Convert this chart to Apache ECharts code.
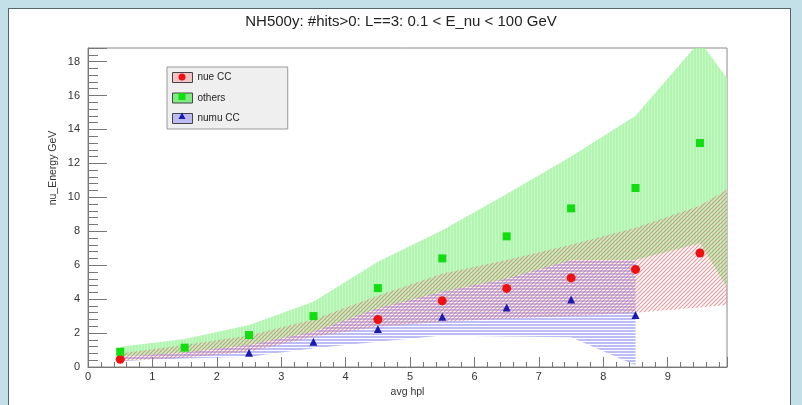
<!DOCTYPE html>
<html lang="en">

<head>
    <meta charset="UTF-8">
    <title>NH500y</title>
    <script src="https://cdn.jsdelivr.net/npm/echarts@6/dist/echarts.min.js"></script>
    <style>
        body {
            margin: 0;
            background: #c3e0e9;
        }

        .panel {
            position: absolute;
            left: 8px;
            top: 8px;
            width: 781px;
            height: 405px;
            background: #fff;
            border: 1px solid #55656b;
        }

        #chart {
            position: absolute;
            left: 0;
            top: 0;
            width: 802px;
            height: 405px;
        }
    </style>
</head>

<body>
    <div class="panel"></div>
    <div id="chart"></div>
    <script>
        // bin centres of the markers
        var xPts = [0.5, 1.5, 2.5, 3.5, 4.5, 5.5, 6.5, 7.5, 8.5, 9.5];
        var nueVal = [0.45, null, null, null, 2.8, 3.9, 4.63, 5.25, 5.75, 6.72];
        var othersVal = [0.9, 1.14, 1.88, 3.0, 4.65, 6.4, 7.7, 9.35, 10.55, 13.2];
        var numuVal = [null, null, 0.84, 1.49, 2.24, 2.96, 3.51, 3.98, 3.06];

        // error bands (the last point is outside the frame and gets clipped)
        var bandX = [0.5, 1.5, 2.5, 3.5, 4.5, 5.5, 6.5, 7.5, 8.5, 9.5, 10.5];
        var othersLo = [0.6, 0.85, 1.3, 2.08, 3.46, 4.43, 5.2, 6.3, 6.3, 7.3, 1.1];
        var othersHi = [1.2, 1.65, 2.47, 3.85, 6.2, 8.06, 10.2, 12.4, 14.8, 19.2, 14.0];
        var nueLo = [0.35, 0.55, 0.9, 1.78, 2.37, 2.66, 2.84, 3.0, 3.2, 3.5, 3.86];
        var nueHi = [0.8, 1.3, 1.85, 2.8, 4.2, 5.5, 6.3, 7.2, 8.2, 9.5, 11.8];
        var numuLo = [0.35, 0.5, 0.6, 1.1, 1.49, 1.85, 1.8, 1.75, 0.1];
        var numuHi = [0.6, 0.85, 1.3, 2.08, 3.46, 4.43, 5.2, 6.3, 6.3];

        var legendNames = ['nue CC', 'others', 'numu CC'];

        // ROOT style hatches drawn into small canvases
        function hatch(kind) {
            var c = document.createElement('canvas');
            c.width = 4;
            c.height = 4;
            var ctx = c.getContext('2d');
            if (kind == 'green') {
                c.width = 3;
                ctx.fillStyle = 'rgba(140,240,140,0.68)';
                ctx.fillRect(0, 0, 3, 4);
                ctx.fillStyle = 'rgba(225,255,225,0.45)';
                ctx.fillRect(0, 0, 1, 4);
            } else if (kind == 'red') {
                ctx.strokeStyle = 'rgba(225,115,120,0.72)';
                ctx.lineWidth = 1.2;
                ctx.beginPath();
                ctx.moveTo(-1, 5); ctx.lineTo(5, -1);
                ctx.moveTo(-1, 1); ctx.lineTo(1, -1);
                ctx.moveTo(3, 5); ctx.lineTo(5, 3);
                ctx.stroke();
            } else {
                c.height = 3;
                ctx.fillStyle = 'rgba(140,140,240,0.58)';
                ctx.fillRect(0, 0, 4, 2);
            }
            return { image: c, repeat: 'repeat' };
        }

        function band(xs, lo, hi, fill) {
            return {
                type: 'custom',
                clip: true,
                silent: true,
                data: [[xs[0], lo[0]]],
                renderItem: function (params, api) {
                    var pts = [];
                    for (var i = 0; i < xs.length; i++) pts.push(api.coord([xs[i], hi[i]]));
                    for (var j = xs.length - 1; j >= 0; j--) pts.push(api.coord([xs[j], lo[j]]));
                    return { type: 'polygon', shape: { points: pts }, style: { fill: fill } };
                }
            };
        }

        function pairs(vals) {
            var out = [];
            vals.forEach(function (v, i) {
                if (v != null) out.push([xPts[i], v]);
            });
            return out;
        }

        var font = 'Liberation Sans, Arial, sans-serif';
        var myChart = echarts.init(document.getElementById('chart'));
        myChart.setOption({
            backgroundColor: 'transparent',
            animation: false,
            title: {
                text: 'NH500y: #hits>0: L==3: 0.1 < E_nu < 100 GeV',
                left: 'center',
                top: 9,
                textStyle: { fontSize: 15, fontWeight: 'normal', color: '#222', fontFamily: font }
            },
            grid: {
                left: 88, right: 75, top: 48, bottom: 38,
                show: true, borderColor: '#8a8a8a', borderWidth: 1, backgroundColor: '#fff'
            },
            legend: {
                orient: 'vertical',
                left: 167,
                top: 67,
                padding: [5, 48, 5, 5],
                itemGap: 9.5,
                itemWidth: 20,
                itemHeight: 10,
                backgroundColor: '#efefef',
                borderColor: '#999',
                borderWidth: 1,
                selectedMode: false,
                textStyle: { fontSize: 10, color: '#222', fontFamily: font, lineHeight: 10 },
                data: [
                    { name: legendNames[0], icon: 'rect', itemStyle: { color: '#f4c4c4', borderColor: '#444', borderWidth: 1 } },
                    { name: legendNames[1], icon: 'rect', itemStyle: { color: '#7eec7e', borderColor: '#444', borderWidth: 1 } },
                    { name: legendNames[2], icon: 'rect', itemStyle: { color: '#bcbcf2', borderColor: '#444', borderWidth: 1 } }
                ]
            },
            graphic: [
                {
                    type: 'text', x: 53, y: 168, rotation: Math.PI / 2,
                    style: { text: 'nu_Energy GeV', fontSize: 10.5, fill: '#333', fontFamily: font, align: 'center', verticalAlign: 'middle' }
                },
                { type: 'circle', shape: { cx: 182, cy: 77, r: 3.5 }, style: { fill: '#ee1111' }, z: 100 },
                { type: 'rect', shape: { x: 178.5, y: 93, width: 7, height: 7 }, style: { fill: '#11dd11' }, z: 100 },
                { type: 'polygon', shape: { points: [[182, 112.5], [185.5, 119], [178.5, 119]] }, style: { fill: '#1a1ab0' }, z: 100 }
            ],
            xAxis: {
                type: 'value',
                min: 0,
                max: 9.92,
                interval: 1,
                name: 'avg hpl',
                nameLocation: 'middle',
                nameGap: 20,
                nameTextStyle: { fontSize: 10.5, color: '#333', fontFamily: font },
                axisLine: { show: true, lineStyle: { color: '#777' } },
                axisTick: { inside: true, length: 10, lineStyle: { color: '#777' } },
                minorTick: { show: true, splitNumber: 5, length: 5, lineStyle: { color: '#777' } },
                axisLabel: { margin: 4, fontSize: 11, color: '#333', fontFamily: font, showMaxLabel: false },
                splitLine: { show: false }
            },
            yAxis: {
                type: 'value',
                min: 0,
                max: 18.8,
                interval: 2,
                axisLine: { show: true, lineStyle: { color: '#777' } },
                axisTick: { inside: true, length: 19, lineStyle: { color: '#777' } },
                minorTick: { show: true, splitNumber: 5, length: 10, lineStyle: { color: '#777' } },
                axisLabel: { margin: 8, fontSize: 11, color: '#333', fontFamily: font, showMaxLabel: false },
                splitLine: { show: false }
            },
            series: [
                band(bandX, othersLo, othersHi, hatch('green')),
                band(bandX.slice(0, numuLo.length), numuLo, numuHi, hatch('blue')),
                band(bandX, nueLo, nueHi, hatch('red')),
                {
                    name: legendNames[0],
                    type: 'scatter',
                    symbol: 'circle',
                    symbolSize: 9,
                    itemStyle: { color: '#ee1111', opacity: 1 },
                    data: pairs(nueVal)
                },
                {
                    name: legendNames[1],
                    type: 'scatter',
                    symbol: 'rect',
                    symbolSize: 8,
                    itemStyle: { color: '#11dd11', opacity: 1 },
                    data: pairs(othersVal)
                },
                {
                    name: legendNames[2],
                    type: 'scatter',
                    symbol: 'triangle',
                    symbolSize: 8,
                    itemStyle: { color: '#1a1ab0', opacity: 1 },
                    data: pairs(numuVal)
                }
            ]
        });
    </script>
</body>

</html>
